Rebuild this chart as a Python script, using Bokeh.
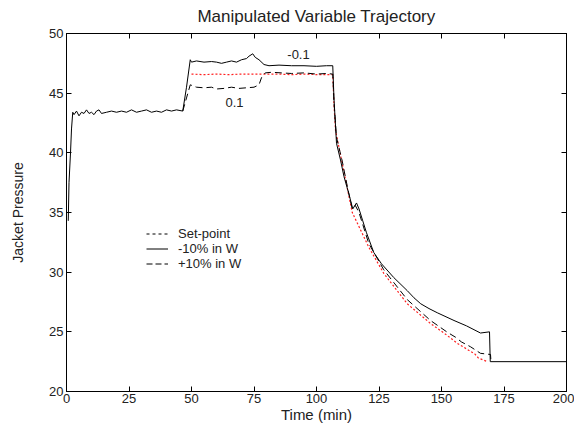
import numpy as np
from bokeh.plotting import figure
from bokeh.models import (LinearAxis, FixedTicker, Range1d, Legend, LegendItem, Label,
                          CustomLabelingPolicy)
from bokeh.embed import file_html
from bokeh.resources import INLINE

# ---- data ----
t_minus = [0.7, 1.0, 1.6, 2.0, 2.5, 3, 4, 5, 6, 7, 8, 9, 10, 11, 12, 13, 14, 16, 18, 20,
           22, 24, 26, 28, 30, 32, 34, 36, 38, 40, 42, 44, 46.5, 48, 49.5, 50, 52, 55,
           58, 60, 62, 64, 66, 68, 70, 72, 73, 74.5, 75.5, 77, 79, 81, 85, 90, 95, 100,
           104, 106.5, 107, 108, 109.6, 111, 112.9, 114.5, 116, 117, 118.5, 120, 122.9,
           126, 130.9, 136.3, 139, 141.7, 145, 148.3, 155, 160, 165.6, 169.2, 169.5, 200]
p_minus = [34.3, 37.5, 40.0, 42.0, 43.4, 43.2, 43.5, 43.1, 43.4, 43.3, 43.6, 43.3, 43.4,
           43.2, 43.5, 43.6, 43.3, 43.4, 43.5, 43.4, 43.5, 43.4, 43.6, 43.4, 43.5, 43.6,
           43.4, 43.5, 43.4, 43.6, 43.5, 43.6, 43.5, 45.5, 47.8, 47.6, 47.7, 47.6, 47.65,
           47.6, 47.5, 47.6, 47.7, 47.6, 47.8, 47.9, 48.1, 48.3, 48.0, 47.8, 47.4, 47.3,
           47.35, 47.3, 47.3, 47.25, 47.3, 47.3, 44.5, 40.8, 39.4, 38.0, 36.6, 35.3, 35.8,
           35.3, 34.3, 33.3, 31.65, 30.7, 29.55, 28.45, 27.85, 27.35, 26.95, 26.6, 25.95,
           25.5, 24.9, 25.0, 22.5, 22.5]

t_plus = [46.5, 48, 49.5, 52, 55, 58, 60, 63, 66, 69, 72, 75, 77, 78, 79.5, 82, 86, 90,
          95, 100, 104, 106.5, 107, 108, 110.3, 112.5, 114.3, 115.5, 117, 120.9, 126.9,
          136.3, 145.6, 152.3, 155.6, 158, 161.6, 165.6, 169.6, 169.8]
p_plus = [43.5, 44.6, 45.7, 45.5, 45.45, 45.5, 45.35, 45.4, 45.5, 45.4, 45.45, 45.5, 45.7,
          46.3, 46.7, 46.75, 46.7, 46.65, 46.7, 46.6, 46.65, 46.6, 44.2, 41.3, 39.3, 37.0,
          35.3, 35.6, 35.0, 32.4, 30.2, 27.7, 25.95, 24.97, 24.55, 24.15, 23.75, 23.2,
          23.1, 22.5]

t_sp = [50, 55, 60, 65, 70, 75, 80, 85, 90, 95, 100, 106.5, 107, 107.6, 110.3, 114.3,
        120.9, 126.9, 136.3, 145.6, 151.3, 156.6, 163.3, 164.8, 168.4]
p_sp = [46.6, 46.55, 46.6, 46.55, 46.6, 46.6, 46.6, 46.6, 46.55, 46.6, 46.55, 46.55, 44.0,
        41.9, 39.1, 35.0, 32.1, 29.9, 27.35, 25.7, 24.85, 24.0, 23.15, 22.8, 22.5]

x_ticks = [0, 25, 50, 75, 100, 125, 150, 175, 200]
y_ticks = [20, 25, 30, 35, 40, 45, 50]

FONT = "Liberation Sans"
TXT = "#222222"

p = figure(width=574, height=427, output_backend="svg", toolbar_location=None,
           x_range=Range1d(0, 200), y_range=Range1d(20, 50),
           min_border_left=66, min_border_right=8, min_border_top=33, min_border_bottom=36,
           title="Manipulated Variable Trajectory")
p.background_fill_color = "white"
p.border_fill_color = "white"
p.outline_line_color = "black"
p.outline_line_width = 1
p.grid.visible = False

p.title.align = "center"
p.title.offset = 7
p.title.text_font = FONT
p.title.text_font_size = "17px"
p.title.text_font_style = "normal"
p.title.text_color = TXT
p.title.standoff = 7

no_labels = CustomLabelingPolicy(code="""
    const all = [...indices];
    for (const i of all) indices.unset(i);
    return indices;
""")

def style_axis(ax, labels=True):
    ax.axis_line_color = "black"
    ax.major_tick_line_color = "black"
    ax.major_tick_in = 5
    ax.major_tick_out = 0
    ax.minor_tick_line_color = None
    ax.major_label_text_font = FONT
    ax.major_label_text_color = TXT
    if labels:
        ax.major_label_text_font_size = "13px"
        ax.major_label_standoff = 3
    else:
        ax.major_label_policy = no_labels
        ax.major_label_text_font_size = "1px"
        ax.major_label_standoff = 0
    ax.axis_label_text_font = FONT
    ax.axis_label_text_font_style = "normal"
    ax.axis_label_text_color = TXT

p.xaxis.ticker = FixedTicker(ticks=x_ticks)
p.yaxis.ticker = FixedTicker(ticks=y_ticks)
style_axis(p.xaxis[0])
style_axis(p.yaxis[0])
p.xaxis.axis_label = "Time (min)"
p.xaxis.axis_label_text_font_size = "15px"
p.xaxis.axis_label_standoff = 0
p.xaxis.major_label_standoff = 2
p.yaxis.axis_label = "Jacket Pressure"
p.yaxis.axis_label_text_font_size = "14px"
p.yaxis.axis_label_standoff = 20

top = LinearAxis(ticker=FixedTicker(ticks=x_ticks))
style_axis(top, labels=False)
p.add_layout(top, "above")
right = LinearAxis(ticker=FixedTicker(ticks=y_ticks))
style_axis(right, labels=False)
p.add_layout(right, "right")

r_sp = p.line(t_sp, p_sp, line_color="#ff2020", line_width=1.2, line_dash="2 2")
r_minus = p.line(t_minus, p_minus, line_color="black", line_width=1)
r_plus = p.line(t_plus, p_plus, line_color="black", line_width=1, line_dash="7 4")

# legend samples (black, as in the reference); a single NaN point draws nothing
nan = np.array([np.nan])
l_sp = p.line(nan, nan, line_color="black", line_width=1, line_dash="3 3")
l_minus = p.line(nan, nan, line_color="black", line_width=1)
l_plus = p.line(nan, nan, line_color="black", line_width=1, line_dash="6 3")

legend = Legend(items=[LegendItem(label="Set-point", renderers=[l_sp]),
                       LegendItem(label="-10% in W", renderers=[l_minus]),
                       LegendItem(label="+10% in W", renderers=[l_plus])],
                location=(80, 120), background_fill_alpha=0, border_line_alpha=0,
                padding=0, margin=0, spacing=0, label_height=15, glyph_height=15,
                glyph_width=22, label_standoff=10, label_text_font=FONT,
                label_text_font_size="13px", label_text_color=TXT)
p.add_layout(legend, "center")

for txt, tx, ty in [("-0.1", 92.8, 48.2), ("0.1", 67.2, 44.25)]:
    p.add_layout(Label(x=tx, y=ty, text=txt, text_align="center", text_baseline="middle",
                       text_font=FONT, text_font_size="13px", text_color=TXT))

open("out.html", "w").write(file_html(p, INLINE))
